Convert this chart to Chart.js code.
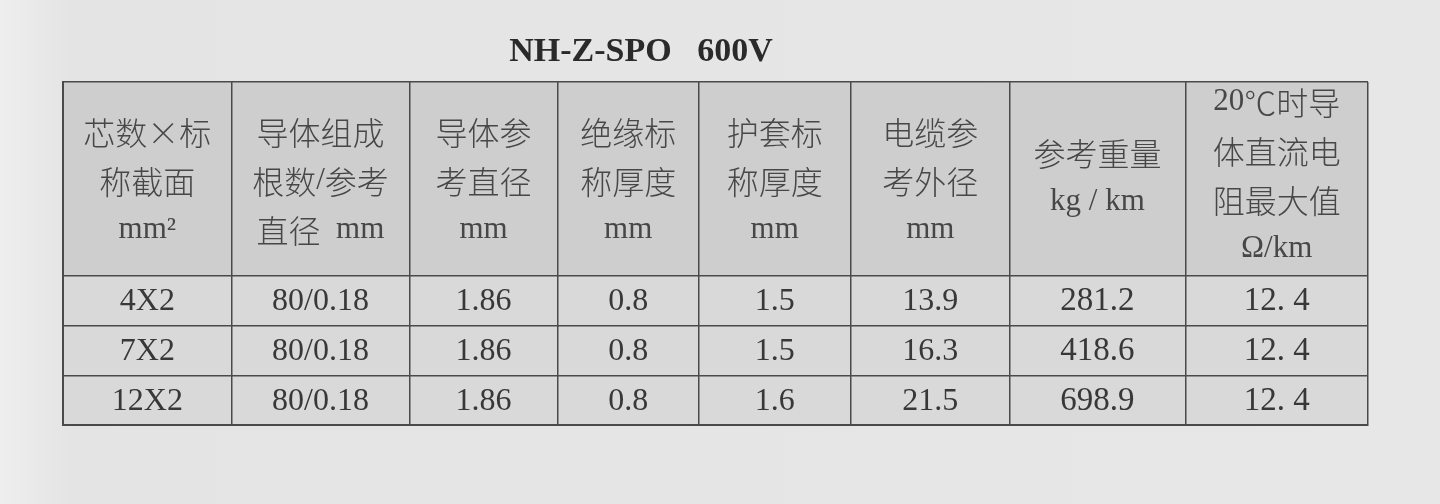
<!DOCTYPE html>
<html>
<head>
<meta charset="utf-8">
<script src="https://cdn.jsdelivr.net/npm/chart.js@4/dist/chart.umd.min.js"></script>
<style>
  html, body { margin: 0; padding: 0; background: #e5e5e5; }
  #wrap { width: 1440px; height: 504px; }
</style>
</head>
<body>
<div id="wrap"><canvas id="tbl" width="1440" height="504"></canvas></div>
<script>
// table content
const title = "NH-Z-SPO   600V";
const headers = [
  ["芯数×标", "称截面", "mm²"],
  ["导体组成", "根数/参考", "直径  mm"],
  ["导体参", "考直径", "mm"],
  ["绝缘标", "称厚度", "mm"],
  ["护套标", "称厚度", "mm"],
  ["电缆参", "考外径", "mm"],
  ["参考重量", "kg / km"],
  ["20℃时导", "体直流电", "阻最大值", "Ω/km"]
];
const sizes = ["4X2", "7X2", "12X2"];
const strands = ["80/0.18", "80/0.18", "80/0.18"];
const conductorDia = [1.86, 1.86, 1.86];
const insulation = [0.8, 0.8, 0.8];
const sheath = [1.5, 1.5, 1.6];
const outerDia = [13.9, 16.3, 21.5];
const weight = [281.2, 418.6, 698.9];
const resistance = [12.4, 12.4, 12.4];

// layout (column widths / row heights in scale units)
const colWidths = [168, 177, 148, 140, 152, 158, 175, 182];
const rowHeights = [193, 50, 50, 49];

const colEdges = [0];
colWidths.forEach(w => colEdges.push(colEdges[colEdges.length - 1] + w));
const rowEdges = [0];
rowHeights.forEach(h => rowEdges.push(rowEdges[rowEdges.length - 1] + h));
const colMid = i => (colEdges[i] + colEdges[i + 1]) / 2;
const rowMid = i => (rowEdges[i] + rowEdges[i + 1]) / 2;

const columnText = [
  sizes,
  strands,
  conductorDia.map(v => v.toFixed(2)),
  insulation.map(v => v.toFixed(1)),
  sheath.map(v => v.toFixed(1)),
  outerDia.map(v => v.toFixed(1)),
  weight.map(v => v.toFixed(1)),
  resistance.map(v => v.toFixed(1).replace(".", ". "))
];

const datasets = headers.map((h, c) => ({
  label: "col" + c,
  data: [{ x: colMid(c), y: rowMid(0) }].concat(
    columnText[c].map((t, r) => ({ x: colMid(c), y: rowMid(r + 1) }))
  ),
  cellText: [h].concat(columnText[c].map(t => [t])),
  pointRadius: 0,
  showLine: false
}));

const SERIF = '"Liberation Serif", "DejaVu Serif", serif';
const CJK = '"Noto Sans CJK SC", "Noto Sans CJK JP", sans-serif';
const isCjk = ch => ch === "×" || ch.charCodeAt(0) >= 0x2100;

// split a line into runs of CJK / latin so each gets its own font
function runs(text) {
  const out = [];
  for (const ch of text) {
    const cjk = isCjk(ch);
    if (out.length && out[out.length - 1].cjk === cjk) out[out.length - 1].t += ch;
    else out.push({ t: ch, cjk });
  }
  return out;
}

function drawMixed(ctx, text, cx, cy, size) {
  const parts = runs(text);
  let total = 0;
  parts.forEach(p => {
    ctx.font = (p.cjk ? "300 " + (size + 1) + "px " + CJK : size + "px " + SERIF);
    p.w = ctx.measureText(p.t).width;
    total += p.w;
  });
  let x = cx - total / 2;
  ctx.textAlign = "left";
  parts.forEach(p => {
    ctx.font = (p.cjk ? "300 " + (size + 1) + "px " + CJK : size + "px " + SERIF);
    ctx.fillText(p.t, x, cy + (p.cjk ? 1 : 0));
    x += p.w;
  });
}

const paperPlugin = {
  id: "paper",
  beforeDraw(chart) {
    const { ctx, width, height, scales: { x, y } } = chart;
    ctx.save();
    const g = ctx.createLinearGradient(0, 0, width, 0);
    g.addColorStop(0, "#eeeeee");
    g.addColorStop(0.05, "#e4e4e4");
    g.addColorStop(1, "#e7e7e7");
    ctx.fillStyle = g;
    ctx.fillRect(0, 0, width, height);
    const left = x.getPixelForValue(colEdges[0]);
    const right = x.getPixelForValue(colEdges[colEdges.length - 1]);
    ctx.fillStyle = "#d9d9d9";
    ctx.fillRect(left, y.getPixelForValue(rowEdges[1]), right - left,
      y.getPixelForValue(rowEdges[rowEdges.length - 1]) - y.getPixelForValue(rowEdges[1]));
    ctx.fillStyle = "#cecece";
    ctx.fillRect(left, y.getPixelForValue(rowEdges[0]), right - left,
      y.getPixelForValue(rowEdges[1]) - y.getPixelForValue(rowEdges[0]));
    ctx.restore();
  },
  afterDraw(chart) {
    // heading above the table
    const ctx = chart.ctx;
    ctx.save();
    ctx.fillStyle = "#2a2a2a";
    ctx.font = "bold 34px " + SERIF;
    ctx.textAlign = "center";
    ctx.textBaseline = "middle";
    ctx.fillText(title, 641, 52);
    ctx.restore();
  }
};

const headShift = { 2: -1, 3: 2, 4: -3 };

const cellTextPlugin = {
  id: "cellText",
  afterDatasetsDraw(chart) {
    const ctx = chart.ctx;
    ctx.save();
    ctx.textBaseline = "middle";
    chart.data.datasets.forEach((ds, i) => {
      chart.getDatasetMeta(i).data.forEach((pt, j) => {
        const lines = ds.cellText[j];
        if (j === 0) {
          ctx.fillStyle = "#474747";
          const step = 49;
          const y0 = pt.y - (lines.length - 1) * step / 2 + headShift[lines.length];
          lines.forEach((ln, k) => drawMixed(ctx, ln, pt.x, y0 + k * step, 31));
        } else {
          ctx.fillStyle = "#383838";
          ctx.textAlign = "center";
          ctx.font = (i >= 6 ? 33 : 32) + "px " + SERIF;
          ctx.fillText(lines[0], pt.x, pt.y + 1);
        }
      });
    });
    ctx.restore();
  }
};

new Chart(document.getElementById("tbl"), {
  type: "scatter",
  data: { datasets },
  options: {
    responsive: false,
    animation: false,
    events: [],
    layout: { padding: { left: 63, right: 72, top: 82, bottom: 79 } },
    plugins: {
      legend: { display: false },
      tooltip: { enabled: false },
      title: { display: false }
    },
    scales: {
      x: {
        type: "linear",
        min: colEdges[0],
        max: colEdges[colEdges.length - 1],
        afterBuildTicks: s => { s.ticks = colEdges.map(v => ({ value: v })); },
        ticks: { display: false },
        grid: { color: "#4a4a4a", lineWidth: 1.5, drawTicks: false },
        border: { color: "#4a4a4a", width: 2 }
      },
      y: {
        type: "linear",
        reverse: true,
        min: rowEdges[0],
        max: rowEdges[rowEdges.length - 1],
        afterBuildTicks: s => { s.ticks = rowEdges.map(v => ({ value: v })); },
        ticks: { display: false },
        grid: { color: "#4a4a4a", lineWidth: 1.5, drawTicks: false },
        border: { color: "#4a4a4a", width: 2 }
      }
    }
  },
  plugins: [paperPlugin, cellTextPlugin]
});
</script>
</body>
</html>
